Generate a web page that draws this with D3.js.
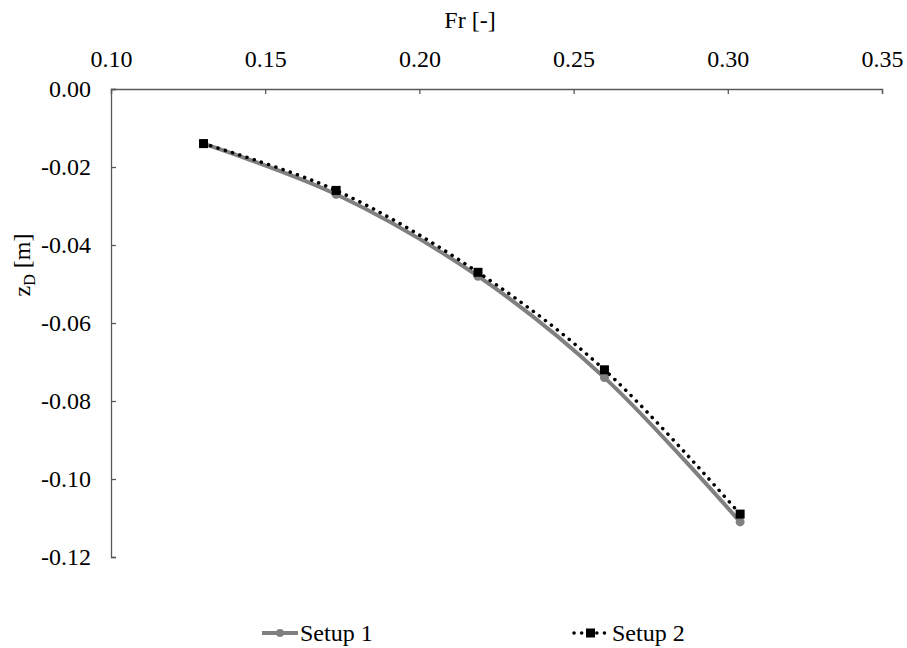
<!DOCTYPE html>
<html>
<head>
<meta charset="utf-8">
<script src="https://cdn.jsdelivr.net/npm/d3@7"></script>
<style>
  body { margin: 0; background: #fff; }
  svg { font-family: "Liberation Serif", "Times New Roman", serif; }
</style>
</head>
<body>
<svg width="907" height="648"></svg>
<script>
// values
const frValues = [0.130, 0.173, 0.219, 0.260, 0.304];
const setup1 = [-0.014, -0.027, -0.048, -0.074, -0.111];
const setup2 = [-0.014, -0.026, -0.047, -0.072, -0.109];
const xTicks = [0.10, 0.15, 0.20, 0.25, 0.30, 0.35];
const yTicks = [0.00, -0.02, -0.04, -0.06, -0.08, -0.10, -0.12];
const seriesNames = ["Setup 1", "Setup 2"];

const svg = d3.select("svg");
const margin = { top: 89, left: 111, right: 25, bottom: 91 };
const width = 907 - margin.left - margin.right;
const height = 648 - margin.top - margin.bottom;
const fs = 24;

const x = d3.scaleLinear().domain([0.10, 0.35]).range([0, width]);
const y = d3.scaleLinear().domain([0.00, -0.12]).range([0, height]);

// plain hyphen minus, like the original
const fmt = d => d.toFixed(2).replace("-0.00", "0.00");
const serif = "'Liberation Serif', 'Times New Roman', serif";

const g = svg.append("g")
  .attr("transform", "translate(" + margin.left + "," + margin.top + ")");

// top x axis, ticks pointing into the plot
const xAxis = g.append("g")
  .call(d3.axisTop(x).tickValues(xTicks).tickFormat(fmt).tickSizeInner(-5).tickSizeOuter(-5).tickPadding(22));

const yAxis = g.append("g")
  .call(d3.axisLeft(y).tickValues(yTicks).tickFormat(fmt).tickSizeInner(-5).tickSizeOuter(-5).tickPadding(20));

[xAxis, yAxis].forEach(a => {
  a.attr("font-family", serif).attr("font-size", fs);
  a.selectAll("text").attr("fill", "#000");
  a.select(".domain").attr("stroke", "#595959").attr("stroke-width", 1.3);
  a.selectAll(".tick line").attr("stroke", "#595959").attr("stroke-width", 1.3);
});

// axis titles
svg.append("text")
  .attr("x", 470).attr("y", 28)
  .attr("text-anchor", "middle")
  .attr("font-size", fs)
  .text("Fr [-]");

const yl = svg.append("text")
  .attr("transform", "translate(30,265) rotate(-90)")
  .attr("text-anchor", "middle")
  .attr("font-size", fs);
yl.append("tspan").text("z");
yl.append("tspan").attr("font-size", 16).attr("dy", 5).text("D");
yl.append("tspan").attr("dy", -5).text(" [m]");

const line = d3.line()
  .x(d => x(d[0]))
  .y(d => y(d[1]))
  .curve(d3.curveCatmullRom.alpha(0.5));

const pts1 = frValues.map((f, i) => [f, setup1[i]]);
const pts2 = frValues.map((f, i) => [f, setup2[i]]);

// Setup 1: grey solid with circles
g.append("path").datum(pts1)
  .attr("d", line)
  .attr("fill", "none")
  .attr("stroke", "#808080")
  .attr("stroke-width", 4);
g.selectAll(".c1").data(pts1).enter().append("circle")
  .attr("cx", d => x(d[0])).attr("cy", d => y(d[1]))
  .attr("r", 4.5).attr("fill", "#808080");

// Setup 2: black dotted with squares
g.append("path").datum(pts2)
  .attr("d", line)
  .attr("fill", "none")
  .attr("stroke", "#000")
  .attr("stroke-width", 3.5)
  .attr("stroke-linecap", "round")
  .attr("stroke-dasharray", "0.1 7.5");
g.selectAll(".s2").data(pts2).enter().append("rect")
  .attr("x", d => x(d[0]) - 4.5).attr("y", d => y(d[1]) - 4.5)
  .attr("width", 9).attr("height", 9).attr("fill", "#000");

// legend
const leg = svg.append("g");
const l1 = leg.append("g").attr("transform", "translate(262,633)");
l1.append("line").attr("x1", 0).attr("x2", 36).attr("stroke", "#808080").attr("stroke-width", 4);
l1.append("circle").attr("cx", 18).attr("r", 4).attr("fill", "#808080");
l1.append("text").attr("x", 38).attr("y", 8).attr("font-size", fs).text(seriesNames[0]);

const l2 = leg.append("g").attr("transform", "translate(572,633)");
l2.append("line").attr("x1", 2).attr("x2", 36).attr("stroke", "#000").attr("stroke-width", 3.5)
  .attr("stroke-linecap", "round").attr("stroke-dasharray", "0.1 7.5");
l2.append("rect").attr("x", 14).attr("y", -4.5).attr("width", 9).attr("height", 9).attr("fill", "#000");
l2.append("text").attr("x", 40).attr("y", 8).attr("font-size", fs).text(seriesNames[1]);
</script>
</body>
</html>
